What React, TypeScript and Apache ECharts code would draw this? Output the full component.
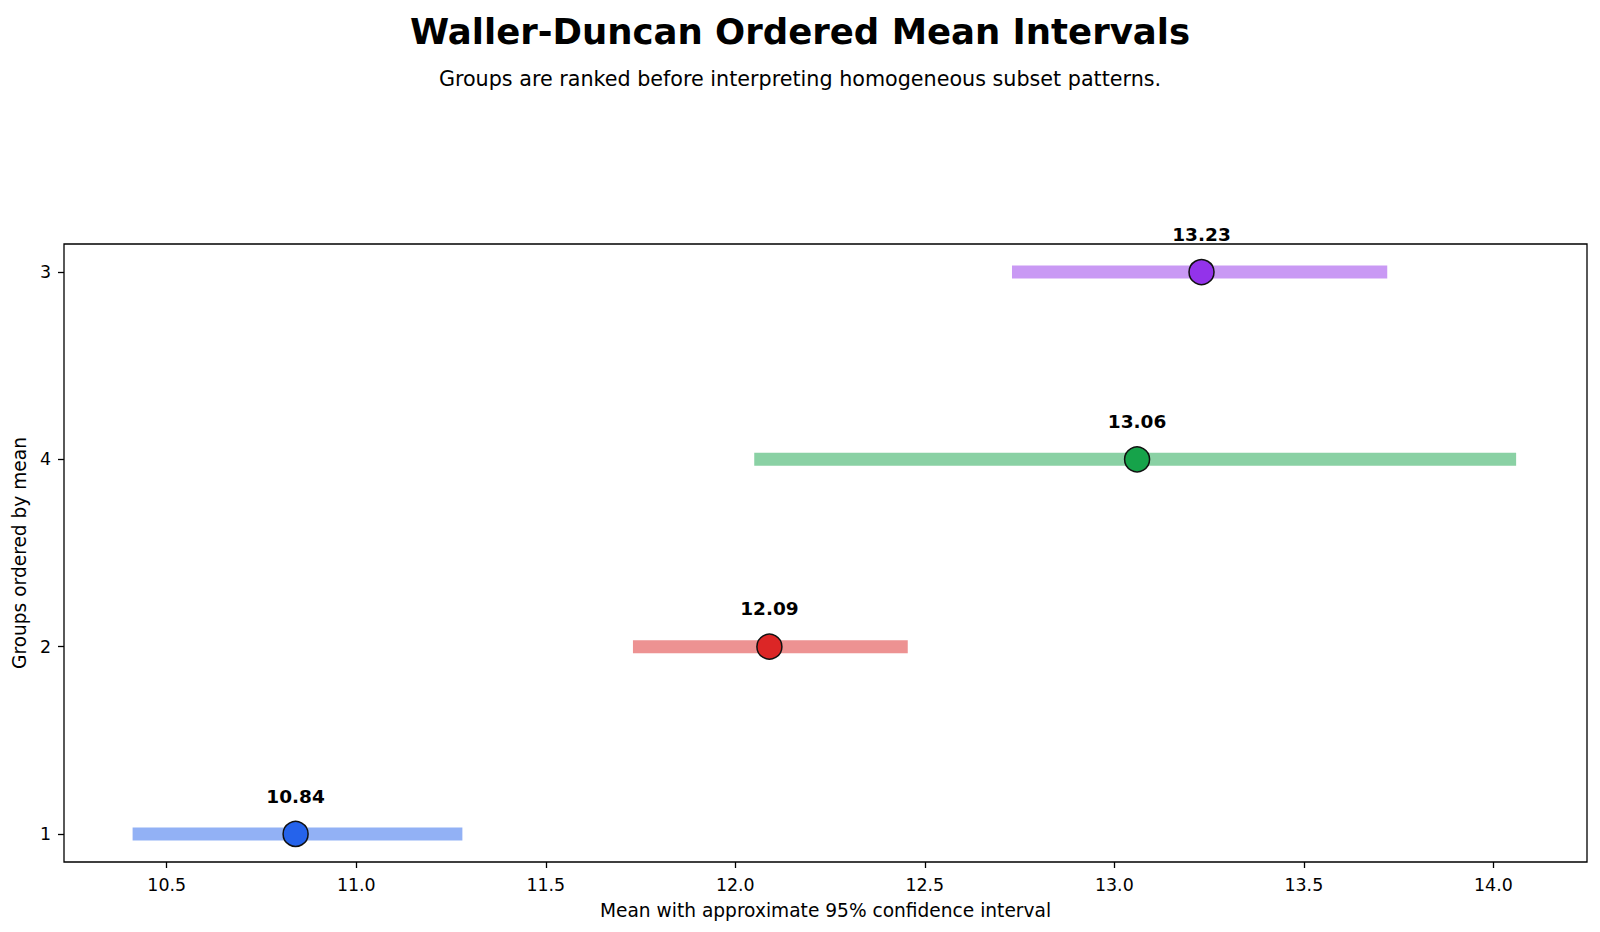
import React, { useEffect, useRef } from "react";
import * as echarts from "echarts";

const groups = ["1", "2", "4", "3"];
const means = [10.84, 12.09, 13.06, 13.23];
const lower = [10.41, 11.73, 12.05, 12.73];
const upper = [11.28, 12.455, 14.06, 13.72];
const markerColors = ["#2563eb", "#dc2626", "#16a34a", "#9333ea"];
const xTicks = [10.5, 11.0, 11.5, 12.0, 12.5, 13.0, 13.5, 14.0];
const yTicks = [0, 1, 2, 3];

const FONT = "DejaVu Sans";

export default function App() {
  const ref = useRef<HTMLDivElement>(null);

  useEffect(() => {
    if (!ref.current) return;
    const chart = echarts.init(ref.current, undefined, { renderer: "svg" });

    const intervalSeries = groups.map((g, i) => ({
      type: "line",
      name: "interval " + g,
      data: [
        [lower[i], i],
        [upper[i], i],
      ],
      symbol: "none",
      silent: true,
      z: 2,
      lineStyle: { width: 13, color: markerColors[i], opacity: 0.5, cap: "butt" },
    }));

    const option = {
      animation: false,
      backgroundColor: "#ffffff",
      textStyle: { fontFamily: FONT },
      title: [
        {
          text: "Waller-Duncan Ordered Mean Intervals",
          left: "center",
          top: 13,
          padding: 0,
          textStyle: { fontFamily: FONT, fontSize: 35.5, fontWeight: "bold", color: "#000" },
        },
        {
          text: "Groups are ranked before interpreting homogeneous subset patterns.",
          left: "center",
          top: 68,
          padding: 0,
          textStyle: { fontFamily: FONT, fontSize: 20.7, fontWeight: "normal", color: "#000" },
        },
      ],
      grid: {
        left: 64,
        top: 244,
        width: 1523,
        height: 618,
        show: true,
        borderColor: "#000",
        borderWidth: 1.3,
        backgroundColor: "transparent",
        containLabel: false,
      },
      xAxis: {
        type: "value",
        min: 10.229,
        max: 14.247,
        axisLine: { show: false, onZero: false },
        axisTick: { show: true, length: 6, lineStyle: { color: "#000", width: 1.3 }, customValues: xTicks },
        axisLabel: {
          customValues: xTicks,
          formatter: (v: number) => v.toFixed(1),
          fontFamily: FONT,
          fontSize: 17.4,
          color: "#000",
          margin: 14,
        },
        splitLine: { show: false },
        name: "Mean with approximate 95% confidence interval",
        nameLocation: "middle",
        nameGap: 39,
        nameTextStyle: { fontFamily: FONT, fontSize: 18.6, color: "#000" },
      },
      yAxis: {
        type: "value",
        min: -0.15,
        max: 3.15,
        axisLine: { show: false, onZero: false },
        axisTick: { show: true, length: 6, lineStyle: { color: "#000", width: 1.3 }, customValues: yTicks },
        axisLabel: {
          customValues: yTicks,
          formatter: (v: number) => groups[Math.round(v)] ?? "",
          fontFamily: FONT,
          fontSize: 17.4,
          color: "#000",
          margin: 13,
        },
        splitLine: { show: false },
        name: "Groups ordered by mean",
        nameLocation: "middle",
        nameRotate: 90,
        nameGap: 35,
        nameTextStyle: { fontFamily: FONT, fontSize: 18.6, color: "#000" },
      },
      series: [
        ...intervalSeries,
        {
          type: "scatter",
          name: "means",
          z: 5,
          symbol: "circle",
          symbolSize: 25,
          data: means.map((m, i) => ({ value: [m, i], itemStyle: { color: markerColors[i] } })),
          itemStyle: { borderColor: "#111", borderWidth: 1.5, opacity: 1 },
          label: {
            show: true,
            position: "top",
            distance: 15,
            formatter: (p: any) => means[p.dataIndex].toFixed(2),
            fontFamily: FONT,
            fontSize: 18.5,
            fontWeight: "bold",
            color: "#000",
          },
        },
      ],
    };

    chart.setOption(option as any);
    return () => chart.dispose();
  }, []);

  return (
    <div
      ref={ref}
      style={{ position: "fixed", left: 0, top: 0, width: 1600, height: 932, background: "#fff" }}
    />
  );
}
